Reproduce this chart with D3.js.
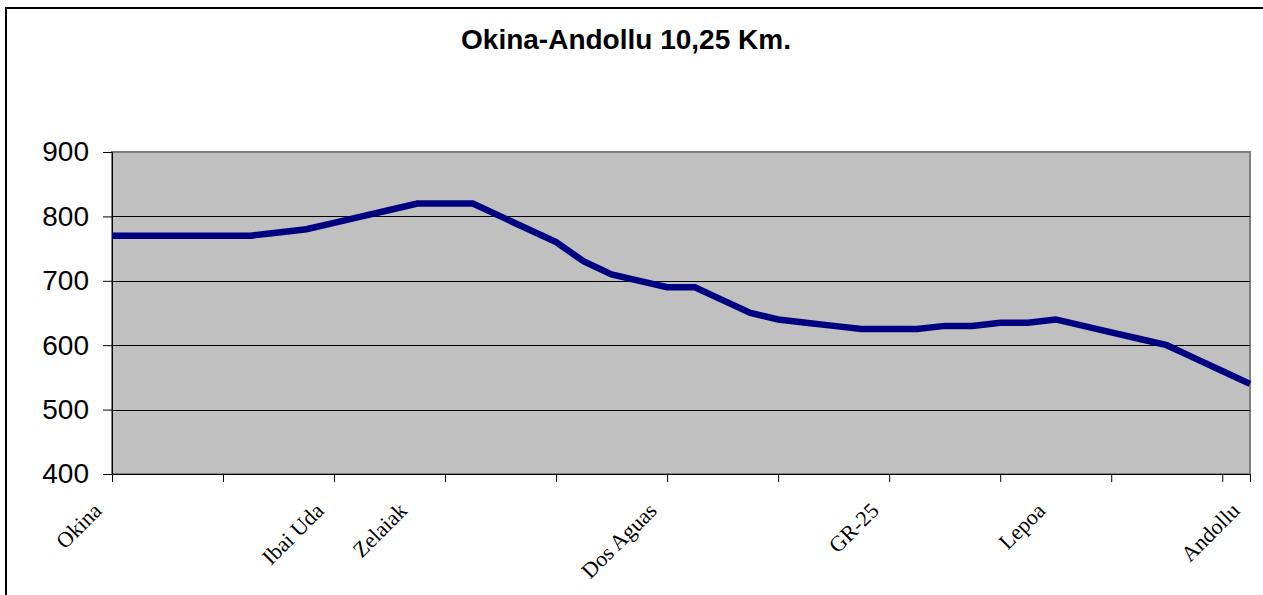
<!DOCTYPE html>
<html>
<head>
<meta charset="utf-8">
<script src="https://cdn.jsdelivr.net/npm/d3@7"></script>
<style>
  body { margin: 0; background: #fff; }
  svg { display: block; }
</style>
</head>
<body>
<script>
// ---- data ----
var title = "Okina-Andollu 10,25 Km.";
// altitude (m) at each profile point, 42 points
var altitudes = [770, 770, 770, 770, 770, 770, 775, 780, 790, 800,
                 810, 820, 820, 820, 800, 780, 760, 730, 710, 700,
                 690, 690, 670, 650, 640, 635, 630, 625, 625, 625,
                 630, 630, 635, 635, 640, 630, 620, 610, 600, 580,
                 560, 540];
// named places (index of profile point -> label)
var placeIdx   = [0, 8, 11, 20, 28, 34, 41];
var placeNames = ["Okina", "Ibai Uda", "Zelaiak", "Dos Aguas", "GR-25", "Lepoa", "Andollu"];
var yTicks = [400, 500, 600, 700, 800, 900];
var tickEvery = 4;

// ---- layout ----
var width_outer = 1263, height_outer = 595;
var plot = {left: 112, top: 152, right: 1250, bottom: 474};

var svg = d3.select("body").append("svg")
  .attr("width", width_outer)
  .attr("height", height_outer);

// chart frame (runs off the picture at right/bottom)
svg.append("rect")
  .attr("x", 6).attr("y", 8)
  .attr("width", 1300).attr("height", 700)
  .attr("fill", "#fff")
  .attr("stroke", "#000")
  .attr("stroke-width", 2);

svg.append("text")
  .attr("x", 626).attr("y", 49)
  .attr("text-anchor", "middle")
  .style("font-family", "Arial, 'Liberation Sans', sans-serif")
  .style("font-weight", "bold")
  .style("font-size", "28px")
  .text(title);

var x = d3.scaleLinear()
  .domain([0, altitudes.length - 1])
  .range([plot.left, plot.right]);

var y = d3.scaleLinear()
  .domain([400, 900])
  .range([plot.bottom, plot.top]);

// plot area
svg.append("rect")
  .attr("x", plot.left).attr("y", plot.top)
  .attr("width", plot.right - plot.left)
  .attr("height", plot.bottom - plot.top)
  .attr("fill", "#c0c0c0")
  .attr("stroke", "#808080")
  .attr("stroke-width", 2);

// gridlines
svg.append("g")
  .selectAll("line")
  .data(yTicks.filter(function(d) { return d > 400 && d < 900; }))
  .enter().append("line")
    .attr("x1", plot.left).attr("x2", plot.right)
    .attr("y1", function(d) { return Math.round(y(d)) + 0.5; })
    .attr("y2", function(d) { return Math.round(y(d)) + 0.5; })
    .attr("stroke", "#000")
    .attr("stroke-width", 1);

// y axis
var yAxis = d3.axisLeft(y)
  .tickValues(yTicks)
  .tickSize(9)
  .tickPadding(14);

var gy = svg.append("g")
  .attr("transform", "translate(" + plot.left + ",0)")
  .call(yAxis);
gy.select(".domain").attr("stroke", "#000");
gy.selectAll("text")
  .style("font-family", "Arial, 'Liberation Sans', sans-serif")
  .style("font-size", "28px")
  .attr("fill", "#000");

// x axis: ticks every 4 points, labels only for named places
var xTickVals = d3.range(0, altitudes.length, tickEvery);
var xAxis = d3.axisBottom(x)
  .tickValues(xTickVals)
  .tickSize(8)
  .tickFormat("");

var gx = svg.append("g")
  .attr("transform", "translate(0," + plot.bottom + ")")
  .call(xAxis);
gx.select(".domain").attr("stroke", "#000");

svg.append("g")
  .selectAll("text")
  .data(placeIdx)
  .enter().append("text")
    .attr("transform", function(d) {
      return "translate(" + (x(d) - 9) + "," + (plot.bottom + 38) + ") rotate(-45)";
    })
    .attr("text-anchor", "end")
    .style("font-family", "'Times New Roman', 'Liberation Serif', serif")
    .style("font-size", "22px")
    .text(function(d, i) { return placeNames[i]; });

// profile line
var line = d3.line()
  .x(function(d, i) { return x(i); })
  .y(function(d) { return y(d); });

svg.append("path")
  .datum(altitudes)
  .attr("d", line)
  .attr("fill", "none")
  .attr("stroke", "#000080")
  .attr("stroke-width", 6.5);
</script>
</body>
</html>
